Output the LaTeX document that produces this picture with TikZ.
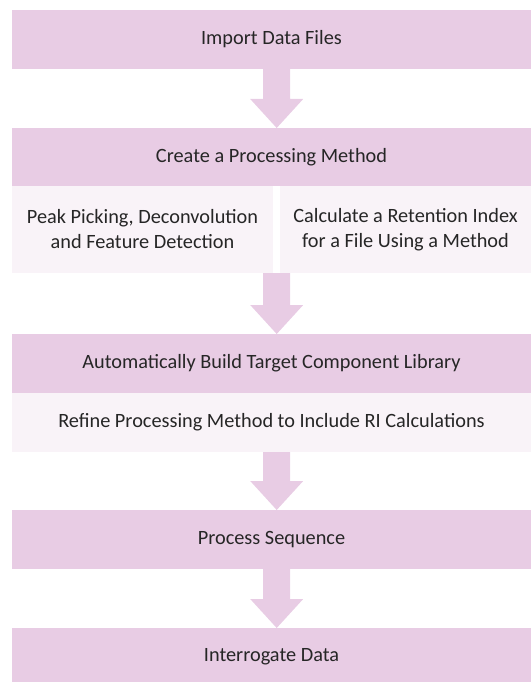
\documentclass[tikz,border=0pt]{standalone}
\usepackage{fontspec}
\setmainfont{Carlito}
\usetikzlibrary{calc}
\definecolor{hdrpink}{HTML}{E8CCE4}
\definecolor{subpink}{HTML}{F9F3F8}
\definecolor{txtgray}{HTML}{262626}
\tikzset{
  box/.style={inner sep=0pt, outer sep=0pt, align=center, text=txtgray,
    font=\fontsize{20.3bp}{25bp}\selectfont},
  hdr/.style={box, fill=hdrpink},
  sub/.style={box, fill=subpink},
  arrowfill/.style={fill=hdrpink, draw=none}
}
\newcommand\blockarrow[2]{%
  \fill[arrowfill] let \p0=(axis), \p1=(#1.south), \p2=(#2.north) in
    (\x0-13.5bp,\y1) -- (\x0+13.5bp,\y1) -- (\x0+13.5bp,\y2+29bp) --
    (\x0+26.5bp,\y2+29bp) -- (\x0,\y2) -- (\x0-26.5bp,\y2+29bp) --
    (\x0-13.5bp,\y2+29bp) -- cycle;}
\begin{document}
\begin{tikzpicture}[x=1bp,y=-1bp]
\useasboundingbox (0,0) rectangle (531,682);
\clip (0,0) rectangle (531,682);
\coordinate (axis) at (276.7,0);
\node[hdr, minimum width=519bp, minimum height=59bp] (b1) at (271.5,39.5) {Import Data Files};
\node[hdr, minimum width=519bp, minimum height=58bp] (b2) at (271.5,157) {Create a Processing Method};
\node[sub, minimum width=261bp, minimum height=87bp] (s2l) at (142.5,229.5) {Peak Picking, Deconvolution\\and Feature Detection};
\node[sub, minimum width=251bp, minimum height=87bp] (s2r) at (405.5,229.5) {Calculate a Retention Index\\for a File Using a Method};
\node[hdr, minimum width=519bp, minimum height=59bp] (b3) at (271.5,363.5) {Automatically Build Target Component Library};
\node[sub, minimum width=519bp, minimum height=59bp] (s3) at (271.5,422.5) {Refine Processing Method to Include RI Calculations};
\node[hdr, minimum width=519bp, minimum height=59bp] (b4) at (271.5,539.5) {Process Sequence};
\node[hdr, minimum width=519bp, minimum height=58bp] (b5) at (271.5,657) {Interrogate Data};
\blockarrow{b1}{b2}
\blockarrow{s2l}{b3}
\blockarrow{s3}{b4}
\blockarrow{b4}{b5}
\end{tikzpicture}
\end{document}
